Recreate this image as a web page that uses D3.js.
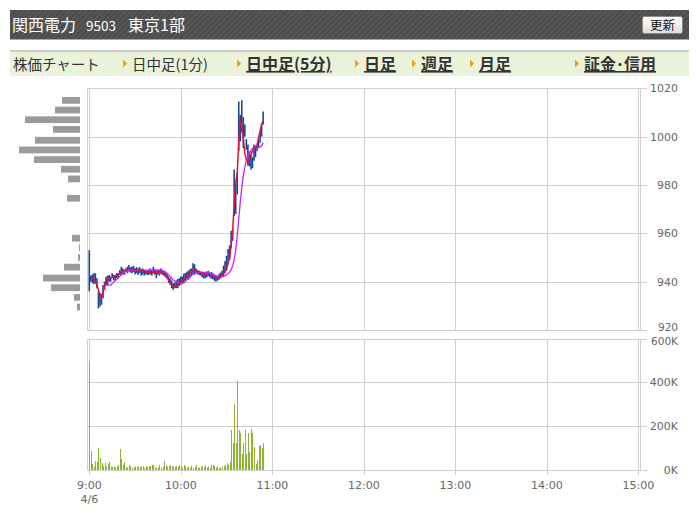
<!DOCTYPE html>
<html><head><meta charset="utf-8">
<script src="https://cdn.jsdelivr.net/npm/d3@7"></script>
<style>html,body{margin:0;padding:0;background:#fff;}svg{display:block;}</style>
</head><body>
<svg id="c" width="699" height="521"></svg>
<script>
// ---- data (1-minute bars from 9:00, 2016/4/6) ----
const dateLabel = "4/6";
const timeTicks = [0, 60, 120, 180, 240, 300, 360];
const timeTickLabels = ["9:00", "10:00", "11:00", "12:00", "13:00", "14:00", "15:00"];
const priceTicks = [920, 940, 960, 980, 1000, 1020];
const volumeTicks = [0, 200, 400, 600];
const volumeTickLabels = ["0K", "200K", "400K", "600K"];

const lows = [936,940,939.5,939,939.3,937.3,929,929.7,930.5,933.1,936.6,938.6,938.5,940,940,941.4,940.5,940.7,941.5,941.4,942.8,942.8,943.5,942.8,944.2,943.5,944.2,943.8,943.5,944,943,943.5,942.8,943.5,942.5,943,942.5,943,942.8,
942.8,943,942.5,943.5,942.8,941.4,943,942.5,943.2,942.8,942.5,941.8,941.4,939.5,938.7,937.3,936.6,937.3,937.3,937.3,938.2,938.7,939.4,939.4,940.5,941,940.8,941.4,942.2,943.1,942.8,943.5,943,942.8,942.5,941.8,941.4,941.4,941.8,942.2,941.8,
941.2,941,940.4,940,940.4,940.8,941.4,941.8,942.4,943.5,944.5,947.5,949,954,956.9,967.2,968,976.1,993.9,998,1002,995.3,1000,994.5,988,987.7,986.4,987,990,991.5,994,995.5,997.5,1000,1005];
const highs = [953,942.5,943,943.5,943.5,941.4,935.9,935.2,935,938.6,940,942,942.5,942.8,942,943.5,942.8,942.8,943.5,943.5,944.8,946.2,945.5,944.8,945.5,946.2,946.9,946,946.2,946.5,945.5,946,945.5,946,945,945.5,944.5,944.8,944.5,
945,945.5,944.8,946.2,945.2,944.5,945,944.8,945.5,944.5,944.2,943.8,943.5,942.2,941.4,940.5,939.3,939.5,940.5,941.1,941.4,942.1,942.2,943.3,943.6,944.1,944.6,945.2,945.5,947.6,947.2,945.5,944.8,944.5,944.1,944.1,943.5,943.5,944.1,944.5,943.8,
944,943.5,943,942.8,942.4,943.1,943.8,944.5,946.6,948.5,950.7,953.5,955,961,961.8,986.4,980.2,985,1014.5,1009,1015,1008,1005,999,996.7,993.9,992.6,991.5,996.7,996,996.5,998.5,1002,1005.5,1010.4];
const shortAvg = [null,942.1,941.7,941.4,940,938.5,936.5,934.5,933.5,935.5,938,940.5,941.5,941.8,941.8,941.8,942,942.1,942.5,942.8,943.5,944,944.3,944.6,944.8,945,945,945.1,945.1,945,945,944.9,944.8,944.8,944.8,944.6,944.4,944,943.8,
943.8,943.6,943.6,943.8,944,943.8,943.6,943.6,943.8,943.6,943,942.5,941.6,940.8,939.8,939,938.3,938,938.2,938.5,939.2,940,940.4,940.8,941.5,942.2,942.8,943.3,944,944.5,944.8,944.8,944.4,944.1,943.8,943.5,943.2,942.9,942.8,942.6,942.5,
942.5,942.2,941.8,941.5,941.5,941.8,942.2,942.8,943.5,944.5,945.5,947.5,950,955,961,972,981,985,998,1007,1004,999,993,990.5,989.7,991,992.5,994,995,995.8,996.5,999.5,1002.5,1005,1006.3];
const longAvg = [null,null,null,null,null,null,null,null,null,null,938.6,938.6,938.6,938.6,938.6,939.2,939.8,940.4,941,941.5,942.2,942.8,943.3,943.8,944.2,944.5,944.7,944.8,944.8,944.8,944.8,944.8,944.8,944.8,944.8,944.8,944.8,944.8,944.8,
944.8,944.8,944.8,944.8,944.8,944.8,944.8,944.8,944.8,944.8,944.4,944,943.4,942.8,942.2,941.4,940.7,940.2,939.9,939.6,939.4,939.3,939.3,939.6,940.2,940.9,941.5,942.2,942.7,943.2,943.5,943.6,943.7,943.8,943.8,943.8,943.8,943.8,943.8,943.7,943.5,
943.2,942.9,942.6,942.3,942.1,941.9,941.9,942,942.2,942.5,942.9,943.4,944,945,946.5,949,953,959,966,973,979,984,987.5,990,991.8,993,994.3,995.2,995.8,996,995.7,995.4,995.6,996.2,997.4];
const volumes = [495,87,27,15,41,37,100,55,32,18,32,15,27,37,15,15,15,11,15,23,96,50,23,37,11,11,23,18,11,15,15,15,15,15,15,18,8,15,15,18,18,23,23,11,11,11,23,11,15,41,23,15,18,23,18,15,15,18,
15,23,18,11,23,18,11,15,11,18,11,15,23,11,11,15,18,11,23,11,15,11,23,23,18,11,15,8,11,15,18,23,32,23,37,
183,123,303,123,407,183,169,73,123,183,73,169,82,187,169,105,27,46,110,114,100,123];
// price-by-volume profile
const profilePrices = [1015,1011,1007,1003,998.5,994.5,990.5,986.5,982.5,974.5,958,954,950,946,941.5,937.5,933.5,929.5];
const profileVolumes = [18,25,55,27,45,61,46,19,12,13,8,1,2,16,37,29,6,3];

const titleName = "関西電力", titleCode = "9503", titleMarket = "東京1部";
const navItems = [
  {t:"株価チャート", link:false, arrow:false, x:13},
  {t:"日中足(1分)", link:false, arrow:true, x:132},
  {t:"日中足(5分)", link:true, arrow:true, x:246},
  {t:"日足", link:true, arrow:true, x:364},
  {t:"週足", link:true, arrow:true, x:421},
  {t:"月足", link:true, arrow:true, x:479},
  {t:"証金･信用", link:true, arrow:true, x:584}
];

// ---- drawing ----
const svg = d3.select("#c");
const defs = svg.append("defs");
const pat = defs.append("pattern").attr("id","stripe").attr("width",4).attr("height",4)
  .attr("patternUnits","userSpaceOnUse").attr("patternTransform","rotate(45)");
pat.append("rect").attr("width",4).attr("height",4).attr("fill","#4c4c4c");
pat.append("rect").attr("width",1.3).attr("height",4).attr("fill","#5b5b5b");
const grad = defs.append("linearGradient").attr("id","btn").attr("x1",0).attr("y1",0).attr("x2",0).attr("y2",1);
grad.append("stop").attr("offset","0").attr("stop-color","#ffffff");
grad.append("stop").attr("offset","1").attr("stop-color","#dcdcdc");

// header
svg.append("rect").attr("x",10).attr("y",10).attr("width",679).attr("height",29.5).attr("fill","url(#stripe)");
const jp = "'Noto Sans CJK JP', sans-serif";
svg.append("text").attr("x",12).attr("y",31).attr("fill","#fff").style("font-family",jp).style("font-size","16px").text(titleName);
svg.append("text").attr("x",86).attr("y",31).attr("fill","#fff").style("font-family",jp).style("font-size","13.5px").text(titleCode);
svg.append("text").attr("x",128).attr("y",31).attr("fill","#fff").style("font-family",jp).style("font-size","16px").text(titleMarket);
svg.append("rect").attr("x",642.5).attr("y",16.5).attr("width",40).attr("height",17).attr("rx",2)
  .attr("fill","url(#btn)").attr("stroke","#8a8a8a");
svg.append("text").attr("x",662.5).attr("y",30).attr("text-anchor","middle").attr("fill","#111")
  .style("font-family",jp).style("font-size","12.5px").text("更新");

// nav bar
svg.append("rect").attr("x",10).attr("y",50).attr("width",679).attr("height",26).attr("fill","#eaf2d9");
svg.append("rect").attr("x",10).attr("y",50).attr("width",679).attr("height",2).attr("fill","#c9cbc4");
navItems.forEach(d => {
  if (d.arrow) {
    svg.append("path").attr("d",`M${d.x-9},59.5 L${d.x-5},63.5 L${d.x-9},67.5 Z`).attr("fill","#f39a14");
  }
  const t = svg.append("text").attr("x",d.x).attr("y",70).attr("fill", "#333")
    .style("font-family",jp).style("font-size", d.link ? "16px" : "14.5px")
    .style("font-weight", d.link ? "bold" : "normal").text(d.t);
  if (d.link) t.style("text-decoration","underline");
});

// scales
const x = d3.scaleLinear().domain([0, 360]).range([89.3, 638.3]);
const yP = d3.scaleLinear().domain([920, 1020]).range([330, 88.3]);
const yV = d3.scaleLinear().domain([0, 600]).range([470, 338.7]);
const px = v => Math.round(v) + 0.5;
const gridC = "#cfcfcf";
const lab = "DejaVu Sans, Verdana, sans-serif";

// price panel grid
const gP = svg.append("g");
gP.selectAll("line.h").data(priceTicks).join("line")
  .attr("x1",87.5).attr("x2",647).attr("y1",d=>px(yP(d))).attr("y2",d=>px(yP(d)))
  .attr("stroke",gridC);
gP.selectAll("line.v").data(timeTicks).join("line")
  .attr("x1",d=>px(x(d))).attr("x2",d=>px(x(d))).attr("y1",px(yP(1020))).attr("y2",px(yP(920)))
  .attr("stroke",gridC);
gP.append("line").attr("x1",87.5).attr("x2",87.5).attr("y1",px(yP(1020))).attr("y2",px(yP(920))).attr("stroke",gridC);
gP.append("line").attr("x1",640.5).attr("x2",640.5).attr("y1",px(yP(1020))).attr("y2",px(yP(920))).attr("stroke",gridC);
gP.selectAll("text").data(priceTicks).join("text")
  .attr("x",678).attr("y",d=>yP(d) - (d===920 ? 3 : 0)).attr("dy","0.36em").attr("text-anchor","end")
  .attr("fill","#666").style("font-family",lab).style("font-size",d=>d===920?"10.5px":"11px").text(d=>d);

// volume panel grid
const gV = svg.append("g");
gV.selectAll("line.h").data(volumeTicks).join("line")
  .attr("x1",87.5).attr("x2",647).attr("y1",d=>px(yV(d))).attr("y2",d=>px(yV(d)))
  .attr("stroke",gridC);
gV.selectAll("line.v").data(timeTicks).join("line")
  .attr("x1",d=>px(x(d))).attr("x2",d=>px(x(d))).attr("y1",px(yV(600))).attr("y2",475)
  .attr("stroke",gridC);
gV.append("line").attr("x1",87.5).attr("x2",87.5).attr("y1",px(yV(600))).attr("y2",px(yV(0))).attr("stroke",gridC);
gV.append("line").attr("x1",640.5).attr("x2",640.5).attr("y1",px(yV(600))).attr("y2",px(yV(0))).attr("stroke",gridC);
gV.selectAll("text").data(volumeTicks).join("text")
  .attr("x",678).attr("y",d=>yV(d) + (d===600 ? 2.5 : 0)).attr("dy","0.36em").attr("text-anchor","end")
  .attr("fill","#666").style("font-family",lab).style("font-size",d=>d===600?"10.5px":"11px").text((d,i)=>volumeTickLabels[i]);

// time labels
svg.append("g").selectAll("text").data(timeTicks).join("text")
  .attr("x",d=>x(d)).attr("y",489).attr("text-anchor","middle").attr("fill","#666")
  .style("font-family",lab).style("font-size","11px").text((d,i)=>timeTickLabels[i]);
svg.append("text").attr("x",x(0)).attr("y",503).attr("text-anchor","middle").attr("fill","#666")
  .style("font-family",lab).style("font-size","11px").text(dateLabel);

// price-by-volume profile
const xProf = d3.scaleLinear().domain([0, 61]).range([0, 61]);
svg.append("g").selectAll("rect").data(profilePrices).join("rect")
  .attr("x",(d,i)=>80 - xProf(profileVolumes[i])).attr("width",(d,i)=>xProf(profileVolumes[i]))
  .attr("y",d=>yP(d+1.4)).attr("height",d=>yP(d-1.4)-yP(d+1.4)).attr("fill","#9b9b9b");

// volume bars
svg.append("g").selectAll("rect").data(volumes).join("rect")
  .attr("x",(d,i)=>Math.round(x(i))).attr("width",1)
  .attr("y",d=>yV(d)).attr("height",d=>yV(0)-yV(d)).attr("fill","#8db52c");

// price bars
svg.append("g").selectAll("rect").data(highs).join("rect")
  .attr("x",(d,i)=>x(i)-0.8).attr("width",1.6)
  .attr("y",d=>yP(d)).attr("height",(d,i)=>Math.max(1, yP(lows[i])-yP(d))).attr("fill","#1b4596");

// averages
const line = d3.line().defined(d=>d!=null).x((d,i)=>x(i)).y(d=>yP(d));
svg.append("path").datum(longAvg).attr("d",line).attr("fill","none").attr("stroke","#cc22ff").attr("stroke-width",1.3);
svg.append("path").datum(shortAvg).attr("d",line).attr("fill","none").attr("stroke","#e0103c").attr("stroke-width",1.5);
</script>
</body></html>
